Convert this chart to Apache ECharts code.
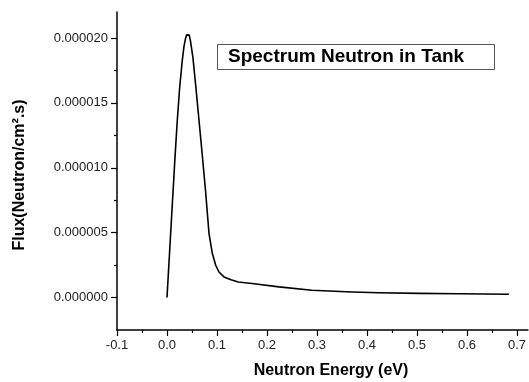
<!DOCTYPE html>
<html>
<head>
<meta charset="utf-8">
<script src="https://cdn.jsdelivr.net/npm/echarts@6/dist/echarts.min.js"></script>
<style>
html,body{margin:0;padding:0;background:#fff;}
#chart{width:529px;height:382px;}
</style>
</head>
<body>
<div id="chart"></div>
<script>
// Data
var energy = [0, 0.008, 0.016, 0.0206, 0.0254, 0.0306, 0.034, 0.037, 0.0395, 0.042, 0.0445, 0.047, 0.052, 0.058, 0.064, 0.0706, 0.077, 0.084, 0.0906, 0.0974, 0.104, 0.114, 0.128, 0.1426, 0.170, 0.224, 0.290, 0.370, 0.424, 0.504, 0.584, 0.684];
var fluxE6 = [0, 5.42, 10.8, 13.66, 16.20, 18.28, 19.35, 19.95, 20.24, 20.34, 20.22, 19.75, 18.44, 16.12, 13.66, 10.96, 8.27, 4.95, 3.41, 2.49, 1.97, 1.59, 1.37, 1.20, 1.08, 0.82, 0.56, 0.43, 0.37, 0.32, 0.29, 0.25];
var xMajor = [-0.1, 0.0, 0.1, 0.2, 0.3, 0.4, 0.5, 0.6, 0.7];
var xMinor = [-0.05, 0.05, 0.15, 0.25, 0.35, 0.45, 0.55, 0.65];
var yMajor = [0, 0.000005, 0.00001, 0.000015, 0.00002];
var yMinor = [0.0000025, 0.0000075, 0.0000125, 0.0000175];
var titleText = 'Spectrum Neutron in Tank';
var xTitle = 'Neutron Energy (eV)';
var yTitle = 'Flux(Neutron/cm².s)';

var FONT = '"Liberation Sans", Arial, sans-serif';
var seriesData = energy.map(function (e, i) { return [e, fluxE6[i] * 1e-6]; });

var xMin = -0.1, xMax = 0.722, yMin = -0.0000025, yMax = 0.000022;

var chart = echarts.init(document.getElementById('chart'), null, {renderer: 'canvas'});
chart.setOption({
  animation: false,
  backgroundColor: '#fff',
  grid: {left: 117, right: 0, top: 12, bottom: 52, containLabel: false},
  xAxis: [{
    type: 'value', min: xMin, max: xMax, position: 'bottom',
    axisLine: {show: true, onZero: false, lineStyle: {color: '#000', width: 1.5}},
    axisTick: {show: true, inside: false, length: 6, customValues: xMajor, lineStyle: {color: '#000', width: 1.2}},
    axisLabel: {show: true, customValues: xMajor, margin: 9, color: '#222', fontSize: 13, fontFamily: FONT,
      formatter: function (v) { return (Math.round(v * 10) / 10).toFixed(1); }},
    splitLine: {show: false}
  }, {
    type: 'value', min: xMin, max: xMax, position: 'bottom',
    axisLine: {show: false, onZero: false},
    axisTick: {show: true, inside: false, length: 3, customValues: xMinor, lineStyle: {color: '#000', width: 1.2}},
    axisLabel: {show: false},
    splitLine: {show: false}
  }],
  yAxis: [{
    type: 'value', min: yMin, max: yMax, position: 'left',
    axisLine: {show: true, onZero: false, lineStyle: {color: '#000', width: 1.5}},
    axisTick: {show: true, inside: false, length: 6, customValues: yMajor, lineStyle: {color: '#000', width: 1.2}},
    axisLabel: {show: true, customValues: yMajor, margin: 9, color: '#222', fontSize: 13, fontFamily: FONT,
      formatter: function (v) { return v.toFixed(6); }},
    splitLine: {show: false}
  }, {
    type: 'value', min: yMin, max: yMax, position: 'left',
    axisLine: {show: false, onZero: false},
    axisTick: {show: true, inside: false, length: 3, customValues: yMinor, lineStyle: {color: '#000', width: 1.2}},
    axisLabel: {show: false},
    splitLine: {show: false}
  }],
  series: [{
    type: 'line',
    data: seriesData,
    xAxisIndex: 0, yAxisIndex: 0,
    showSymbol: false,
    smooth: false,
    lineStyle: {color: '#000', width: 1.6, join: 'round'}
  }],
  graphic: [
    {type: 'rect', shape: {x: 217.5, y: 44.5, width: 277, height: 25},
      style: {fill: '#fff', stroke: '#555', lineWidth: 1}},
    {type: 'text', x: 228, y: 57,
      style: {text: titleText, font: 'bold 19px ' + FONT, fill: '#000', textAlign: 'left', textVerticalAlign: 'middle'}},
    {type: 'text', x: 331, y: 371,
      style: {text: xTitle, font: 'bold 16px ' + FONT, fill: '#000', textAlign: 'center', textVerticalAlign: 'middle'}},
    {type: 'text', x: 20, y: 175, rotation: Math.PI / 2,
      style: {text: yTitle, font: 'bold 16px ' + FONT, fill: '#000', textAlign: 'center', textVerticalAlign: 'middle'}}
  ]
});
</script>
</body>
</html>
